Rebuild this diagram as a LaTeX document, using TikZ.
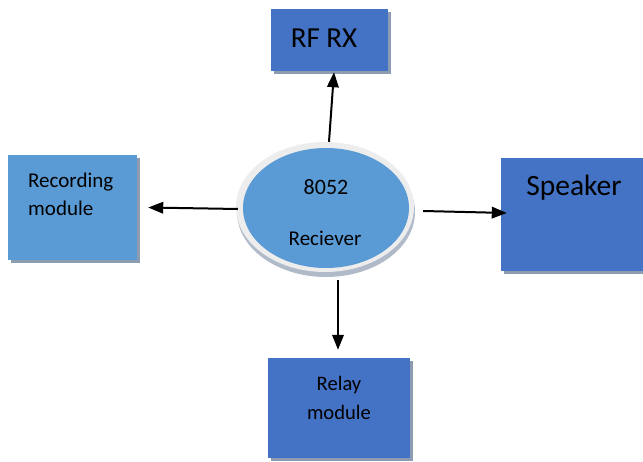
\documentclass[tikz,border=0pt]{standalone}
\usepackage{fontspec}
\setmainfont{Carlito}
\usetikzlibrary{arrows.meta,calc,shapes.geometric}
\definecolor{dkblue}{HTML}{4472C4}
\definecolor{ltblue}{HTML}{5B9BD5}
\definecolor{shad}{HTML}{8E9CB2}
\definecolor{ring}{HTML}{EDEDED}
\tikzset{
  box/.style={draw=none,inner sep=0pt,minimum width=#1},
  arr/.style={line width=2pt,-{Triangle[length=15pt,width=11.5pt]}},
  txt/.style={inner sep=0pt,text=black}
}
\begin{document}
\begin{tikzpicture}[x=1pt,y=-1pt]
\useasboundingbox (0,0) rectangle (643,462);
% shadows
\fill[shad] (274,12) rectangle (391,74);
\fill[shad] (11,158) rectangle (140,263);
\fill[shad] (504,161) rectangle (646,274);
\fill[shad] (271,361) rectangle (413,461);
% boxes
\node[box=117pt,minimum height=62pt,fill=dkblue] (rf) at (329.5,40) {};
\node[box=129pt,minimum height=105pt,fill=ltblue] (rec) at (72.5,207.5) {};
\node[box=142pt,minimum height=113pt,fill=dkblue] (spk) at (572,214.5) {};
\node[box=142pt,minimum height=100pt,fill=dkblue] (rel) at (339,408) {};
% texts
\node[txt,font=\fontsize{29}{32}\selectfont] (rft) at (324,38) {RF RX};
\node[txt,font=\fontsize{21}{28}\selectfont,align=left,anchor=west] (rect) at (28,194) {Recording\\module};
\node[txt,font=\fontsize{29.5}{32}\selectfont] (spkt) at (574,188) {Speaker};
\node[txt,font=\fontsize{20.6}{29}\selectfont,align=center] (relt) at (339,397.5) {Relay\\module};
% ellipse
\fill[shad!70] (326,212) ellipse (89pt and 65pt);
\node[ellipse,draw=none,fill=ring,minimum width=178pt,minimum height=130pt,inner sep=0pt] (ell) at (325,207) {};
\fill[ltblue] (326,208) ellipse (83pt and 60pt);
\node[txt,font=\fontsize{22}{24}\selectfont] (e1) at (326,187) {8052};
\node[txt,font=\fontsize{21}{24}\selectfont] (e2) at (325,238) {Reciever};
% arrows
\draw[arr] ([xshift=4pt]ell.north) -- ([xshift=4.5pt,yshift=-1pt]rf.south);
\draw[arr] ([xshift=2pt,yshift=-2pt]ell.west) -- ([xshift=11pt]rec.east);
\draw[arr] ([xshift=9pt,yshift=-4pt]ell.east) -- ([xshift=6pt,yshift=1.5pt]spk.west);
\draw[arr] ([xshift=13pt,yshift=-8pt]ell.south) -- ([xshift=-1pt,yshift=8pt]rel.north);
\end{tikzpicture}
\end{document}
